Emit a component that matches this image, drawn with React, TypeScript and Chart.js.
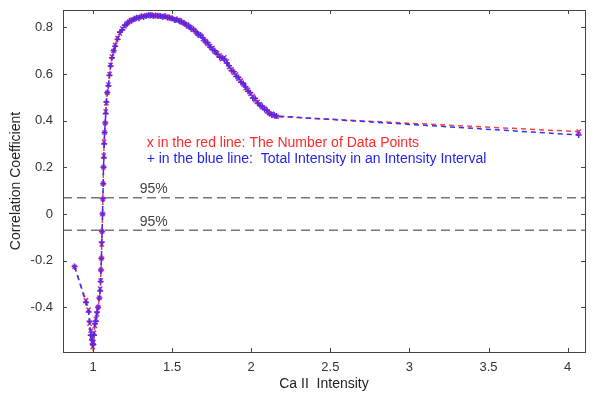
import React, { useEffect, useRef } from 'react';
import { Chart, registerables } from 'chart.js';
Chart.register(...registerables);

const caIntensity = [
  0.883, 0.955, 0.972, 0.978, 0.985, 0.99, 0.994, 0.998, 1.002, 1.006, 1.012, 1.018, 1.025, 1.032,
  1.04, 1.045, 1.048, 1.05, 1.053, 1.055, 1.057, 1.06, 1.062, 1.064, 1.066, 1.068, 1.07, 1.073,
  1.077, 1.08, 1.084, 1.09, 1.097, 1.104, 1.111, 1.12, 1.13, 1.14, 1.155, 1.17, 1.185, 1.2,
  1.215, 1.23, 1.245, 1.26, 1.275, 1.29, 1.305, 1.32, 1.335, 1.35, 1.365, 1.38, 1.395, 1.41,
  1.425, 1.44, 1.455, 1.47, 1.485, 1.5, 1.515, 1.53, 1.545, 1.56, 1.575, 1.59, 1.605, 1.62,
  1.635, 1.65, 1.665, 1.68, 1.695, 1.71, 1.725, 1.74, 1.755, 1.77, 1.785, 1.8, 1.815, 1.83,
  1.845, 1.86, 1.875, 1.89, 1.905, 1.92, 1.935, 1.95, 1.965, 1.98, 1.995, 2.01, 2.025, 2.04,
  2.055, 2.07, 2.085, 2.1, 2.115, 2.13, 2.145, 2.16, 4.07,
];

// red: correlation using the number of data points
const countCorr = [
  -0.227, -0.37, -0.41, -0.47, -0.5, -0.53, -0.55, -0.57, -0.55, -0.51, -0.48, -0.45, -0.43, -0.4,
  -0.36, -0.32, -0.285, -0.24, -0.19, -0.13, -0.075, 0.0, 0.064, 0.13, 0.2, 0.25, 0.31, 0.35,
  0.39, 0.44, 0.475, 0.52, 0.555, 0.6, 0.64, 0.675, 0.7, 0.725, 0.755, 0.775, 0.795, 0.805,
  0.818, 0.825, 0.832, 0.835, 0.84, 0.843, 0.846, 0.848, 0.852, 0.849, 0.855, 0.851, 0.848, 0.852,
  0.847, 0.85, 0.845, 0.846, 0.84, 0.838, 0.836, 0.83, 0.832, 0.822, 0.818, 0.812, 0.805, 0.798,
  0.79, 0.78, 0.772, 0.765, 0.75, 0.742, 0.73, 0.72, 0.712, 0.695, 0.69, 0.68, 0.664, 0.672,
  0.655, 0.63, 0.62, 0.605, 0.598, 0.58, 0.572, 0.556, 0.54, 0.532, 0.515, 0.505, 0.49, 0.48,
  0.47, 0.458, 0.452, 0.44, 0.432, 0.43, 0.422, 0.418, 0.353,
];

// blue: correlation using total intensity in an intensity interval
const intensityCorr = [
  -0.225, -0.38, -0.42, -0.46, -0.52, -0.52, -0.54, -0.56, -0.56, -0.52, -0.47, -0.46, -0.42, -0.4,
  -0.36, -0.33, -0.29, -0.24, -0.19, -0.12, -0.075, 0.0, 0.065, 0.13, 0.2, 0.24, 0.3, 0.35,
  0.39, 0.43, 0.48, 0.52, 0.55, 0.595, 0.635, 0.67, 0.7, 0.72, 0.75, 0.78, 0.79, 0.81,
  0.815, 0.828, 0.83, 0.838, 0.842, 0.84, 0.848, 0.845, 0.85, 0.853, 0.852, 0.849, 0.851, 0.85,
  0.849, 0.846, 0.848, 0.843, 0.842, 0.84, 0.832, 0.834, 0.828, 0.825, 0.82, 0.808, 0.808, 0.795,
  0.792, 0.782, 0.768, 0.768, 0.755, 0.738, 0.735, 0.716, 0.705, 0.7, 0.685, 0.672, 0.67, 0.665,
  0.648, 0.636, 0.615, 0.61, 0.59, 0.585, 0.565, 0.56, 0.545, 0.526, 0.52, 0.498, 0.495, 0.476,
  0.465, 0.462, 0.448, 0.445, 0.43, 0.425, 0.425, 0.42, 0.339,
];

const sigLevels = [0.07, -0.07];
const sigLabel = '95%';
const xTicks = [1, 1.5, 2, 2.5, 3, 3.5, 4];
const yTicks = [-0.4, -0.2, 0, 0.2, 0.4, 0.6, 0.8];
const xRange = [0.81, 4.11];
const yRange = [-0.592, 0.875];
const redNote = 'x in the red line: The Number of Data Points';
const blueNote = '+ in the blue line:  Total Intensity in an Intensity Interval';

const FONT = '"Liberation Sans", Arial, Helvetica, sans-serif';

const boxPlugin = {
  id: 'boxTicks',
  afterDraw(chart: any) {
    const { ctx, chartArea: a, scales } = chart;
    const x = scales.x;
    const y = scales.y;
    ctx.save();
    ctx.strokeStyle = '#444';
    ctx.lineWidth = 1;
    ctx.strokeRect(Math.round(a.left) + 0.5, Math.round(a.top) + 0.5, Math.round(a.right - a.left), Math.round(a.bottom - a.top));
    ctx.beginPath();
    const tl = 4;
    xTicks.forEach((v) => {
      const px = Math.round(x.getPixelForValue(v)) + 0.5;
      ctx.moveTo(px, a.bottom);
      ctx.lineTo(px, a.bottom - tl);
      ctx.moveTo(px, a.top);
      ctx.lineTo(px, a.top + tl);
    });
    yTicks.forEach((v) => {
      const py = Math.round(y.getPixelForValue(v)) + 0.5;
      ctx.moveTo(a.left, py);
      ctx.lineTo(a.left + tl, py);
      ctx.moveTo(a.right, py);
      ctx.lineTo(a.right - tl, py);
    });
    ctx.stroke();

    ctx.font = `14px ${FONT}`;
    ctx.textBaseline = 'middle';
    ctx.textAlign = 'left';
    ctx.fillStyle = '#ff2a2a';
    ctx.fillText(redNote, x.getPixelForValue(1.339), y.getPixelForValue(0.305));
    ctx.fillStyle = '#2424e6';
    ctx.fillText(blueNote, x.getPixelForValue(1.339), y.getPixelForValue(0.236));
    ctx.fillStyle = '#444';
    ctx.fillText(sigLabel, x.getPixelForValue(1.295), y.getPixelForValue(sigLevels[0] + 0.037));
    ctx.fillText(sigLabel, x.getPixelForValue(1.295), y.getPixelForValue(sigLevels[1] + 0.037));
    ctx.restore();
  },
};

export default function App() {
  const ref = useRef<HTMLCanvasElement>(null);
  useEffect(() => {
    if (!ref.current) return;
    const redPts = caIntensity.map((v, i) => ({ x: v, y: countCorr[i] }));
    const bluePts = caIntensity.map((v, i) => ({ x: v, y: intensityCorr[i] }));
    const sigSets = sigLevels.map((s) => ({
      label: sigLabel,
      data: [{ x: xRange[0], y: s }, { x: xRange[1], y: s }],
      borderColor: '#777',
      borderWidth: 1.5,
      borderDash: [9, 5],
      pointRadius: 0,
      showLine: true,
    }));
    const chart = new Chart(ref.current, {
      type: 'scatter',
      data: {
        datasets: [
          {
            label: 'blue',
            data: bluePts,
            showLine: true,
            borderColor: '#3030ff',
            borderWidth: 1.5,
            borderDash: [5, 4],
            pointStyle: 'cross',
            pointRadius: 3,
            pointBorderWidth: 1.5,
            pointBorderColor: '#5a28e0',
            pointBackgroundColor: '#5a28e0',
          },
          {
            label: 'red',
            data: redPts,
            showLine: true,
            borderColor: '#ff4040',
            borderWidth: 1.5,
            borderDash: [5, 4],
            pointStyle: 'crossRot',
            pointRadius: 3,
            pointBorderWidth: 1.5,
            pointBorderColor: '#d0309a',
            pointBackgroundColor: '#d0309a',
          },
          ...sigSets,
        ] as any,
      },
      options: {
        responsive: false,
        animation: false,
        layout: { padding: { left: 0, top: 10, right: 15, bottom: 0 } },
        plugins: { legend: { display: false }, tooltip: { enabled: false } },
        scales: {
          x: {
            type: 'linear',
            min: xRange[0],
            max: xRange[1],
            grid: { display: false, drawTicks: false },
            border: { display: false },
            afterBuildTicks: (s: any) => { s.ticks = xTicks.map((v) => ({ value: v })); },
            afterFit: (s: any) => { s.height = 43; s.paddingLeft = 0; s.paddingRight = 0; },
            ticks: {
              padding: 8, color: '#333', font: { family: FONT, size: 13 }, maxRotation: 0, autoSkip: false,
              callback: (v: any) => String(v),
            },
            title: { display: true, text: 'Ca II  Intensity', color: '#222', font: { family: FONT, size: 14 }, padding: { top: 0, bottom: 2 } },
          },
          y: {
            type: 'linear',
            min: yRange[0],
            max: yRange[1],
            grid: { display: false, drawTicks: false },
            border: { display: false },
            afterBuildTicks: (s: any) => { s.ticks = yTicks.map((v) => ({ value: v })); },
            afterFit: (s: any) => { s.width = 63; s.paddingTop = 0; s.paddingBottom = 0; },
            ticks: { padding: 10, color: '#333', font: { family: FONT, size: 13 }, autoSkip: false, callback: (v: any) => String(v) },
            title: { display: true, text: 'Correlation Coefficient', color: '#222', font: { family: FONT, size: 14 }, padding: { top: 8, bottom: 0 } },
          },
        },
      },
      plugins: [boxPlugin],
    });
    return () => chart.destroy();
  }, []);
  return (
    <div style={{ position: 'absolute', left: 0, top: 0, width: 600, height: 395, background: '#fff' }}>
      <canvas ref={ref} width={600} height={395} />
    </div>
  );
}
